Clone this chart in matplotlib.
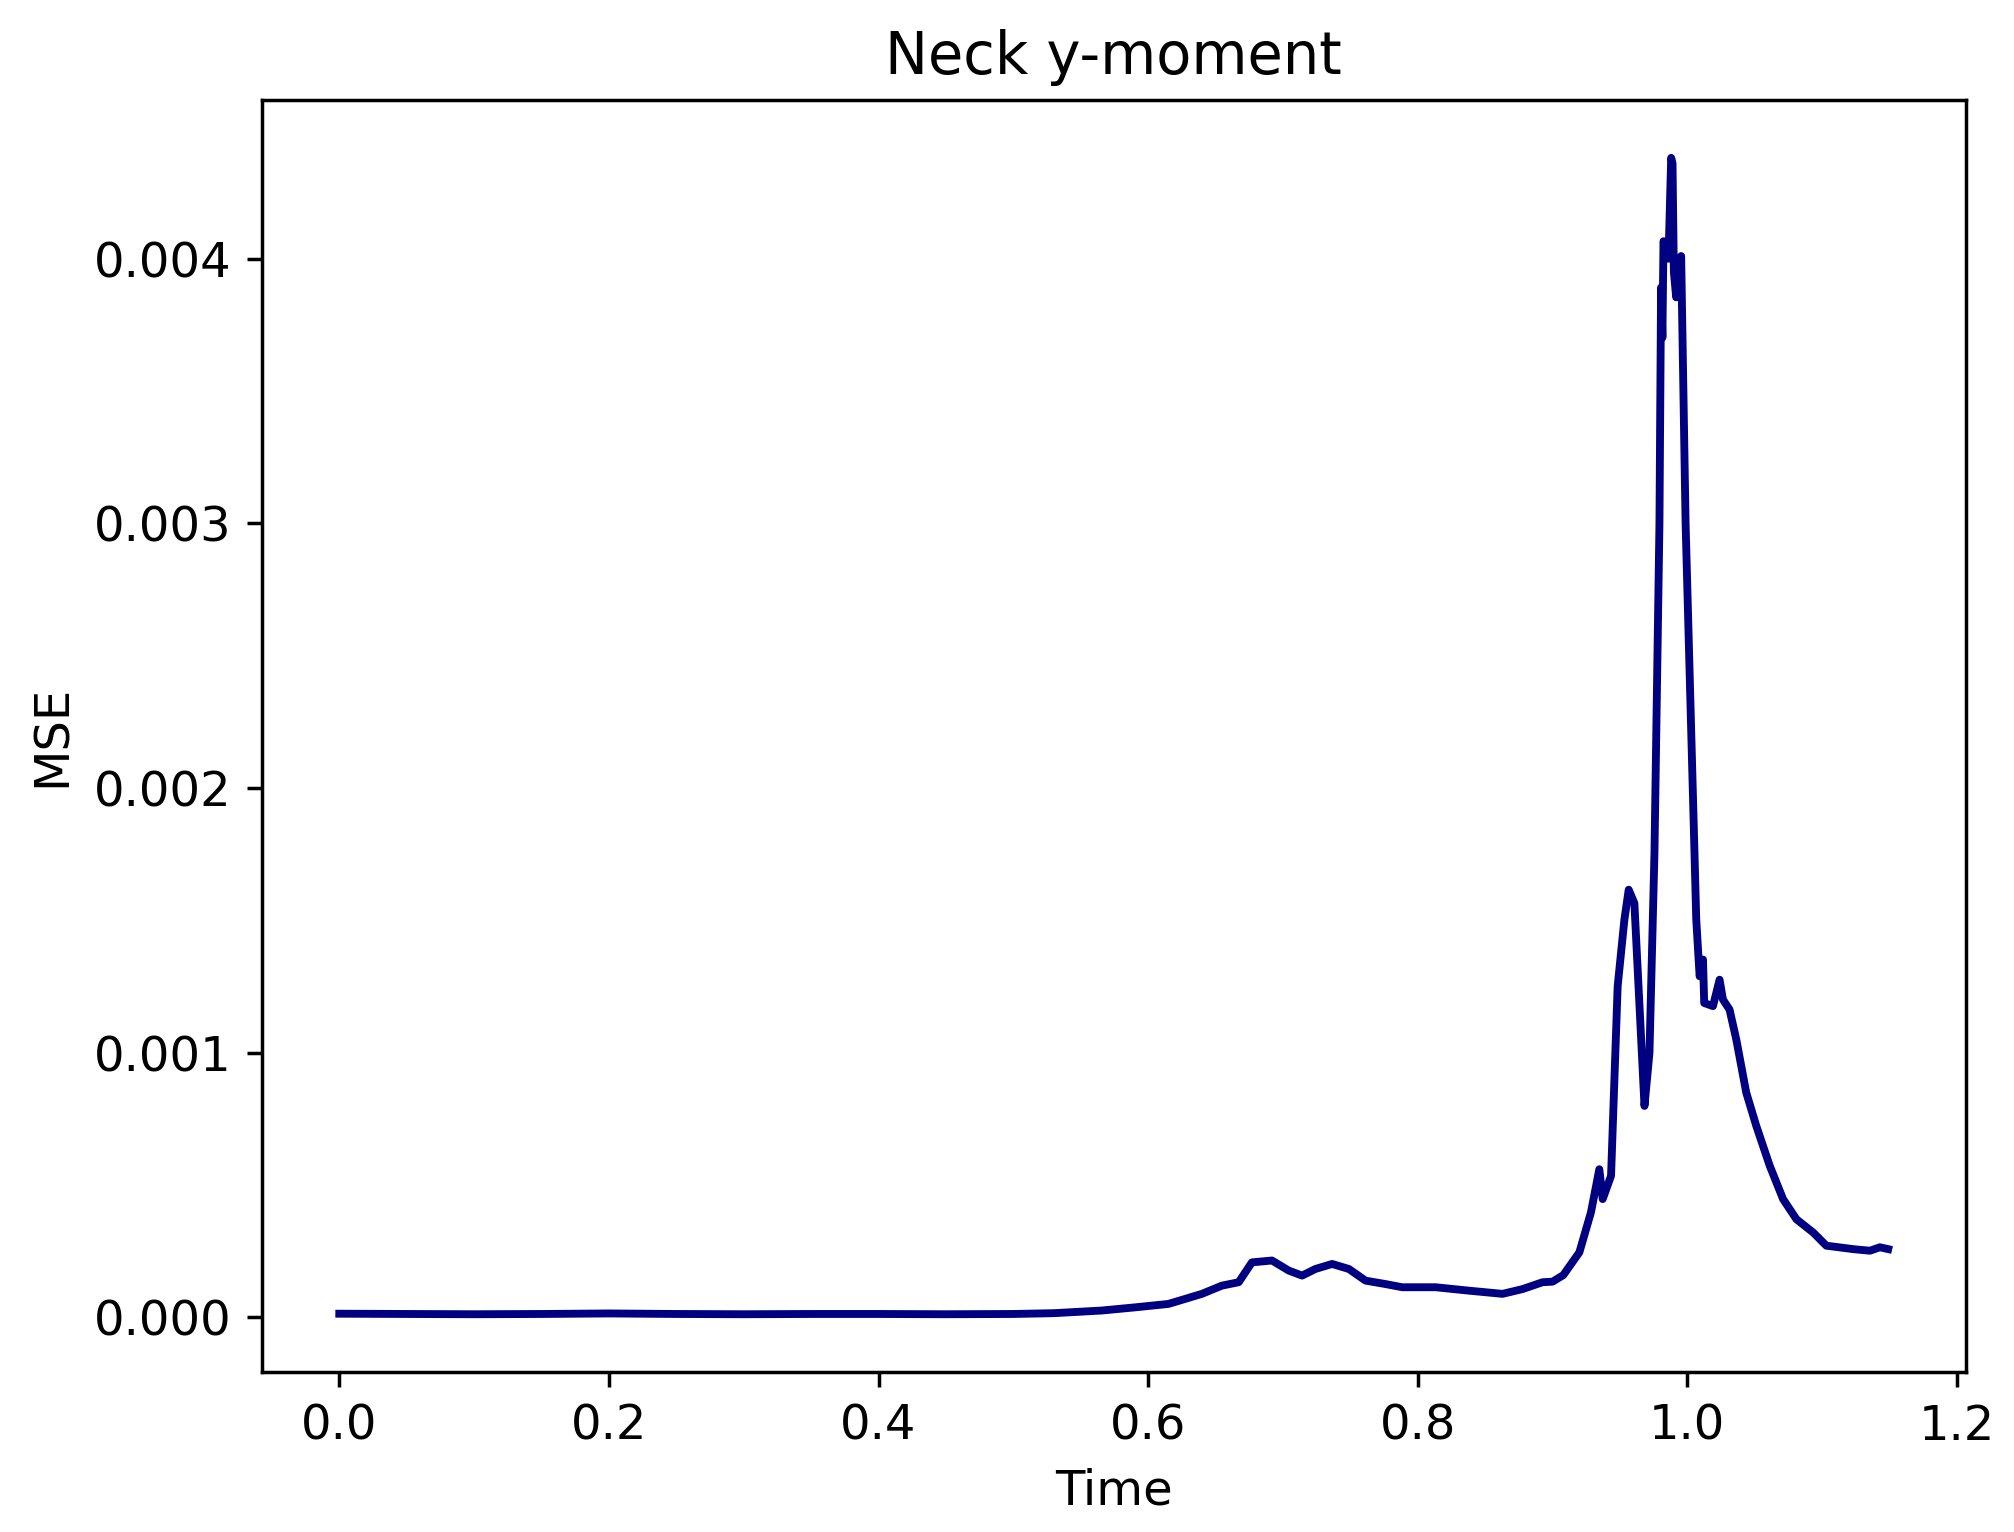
import numpy as np
import matplotlib
matplotlib.use('Agg')
import matplotlib.pyplot as plt

# time (s) and MSE
time = [0.0, 0.05, 0.1, 0.15, 0.2, 0.25, 0.3, 0.35, 0.4, 0.45, 0.5, 0.53,
        0.5655, 0.5903, 0.6151, 0.6399, 0.6547, 0.6672, 0.6770, 0.6919, 0.7043,
        0.7142, 0.7241, 0.7365, 0.7489, 0.7613, 0.7761, 0.7885, 0.8133, 0.8381,
        0.8629, 0.8777, 0.8926, 0.9000, 0.9080, 0.9199, 0.9285, 0.9347, 0.9372,
        0.9434, 0.9483, 0.9533, 0.9565, 0.9607, 0.9682, 0.9719, 0.9756, 0.9793,
        0.9805, 0.9815, 0.9823, 0.9860, 0.9880, 0.9890, 0.9900, 0.9917, 0.9954,
        0.9987, 1.0053, 1.0066, 1.0091, 1.0116, 1.0125, 1.0190, 1.0239, 1.0264,
        1.0313, 1.0363, 1.0437, 1.0511, 1.0611, 1.0710, 1.0809, 1.0933, 1.1031,
        1.1230, 1.1354, 1.1428, 1.1490]
mse = [0.000014, 0.000013, 0.000012, 0.000013, 0.000015, 0.000013, 0.000012,
       0.000013, 0.000013, 0.000012, 0.000013, 0.000016,
       0.000026, 0.000038, 0.000051, 0.000089, 0.000120, 0.000133, 0.000208,
       0.000215, 0.000177, 0.000158, 0.000183, 0.000202, 0.000183, 0.000139,
       0.000126, 0.000114, 0.000114, 0.000101, 0.000089, 0.000107, 0.000133,
       0.000135, 0.000160, 0.000246, 0.000397, 0.000560, 0.000447, 0.000535,
       0.001251, 0.001503, 0.001616, 0.001565, 0.000799, 0.001000, 0.001754,
       0.002998, 0.003891, 0.003702, 0.004066, 0.004000, 0.004381, 0.004360,
       0.003950, 0.003854, 0.004010,
       0.002998, 0.001754, 0.001503, 0.001289, 0.001352, 0.001188, 0.001176,
       0.001276, 0.001201, 0.001163, 0.001050, 0.000849, 0.000724, 0.000573,
       0.000447, 0.000371, 0.000321, 0.000271, 0.000258, 0.000252, 0.000265,
       0.000258]

plt.rcParams['font.size'] = 11

dpi = 314
fig = plt.figure(figsize=(2014 / dpi, 1532 / dpi), dpi=dpi)
ax = fig.add_axes([0.130, 0.1044, 0.846, 0.8303])

ax.plot(time, mse, color='navy', linewidth=1.8)
ax.set_title('Neck y-moment')
ax.set_xlabel('Time')
ax.set_ylabel('MSE')

fig.savefig('out.png', dpi=dpi)
